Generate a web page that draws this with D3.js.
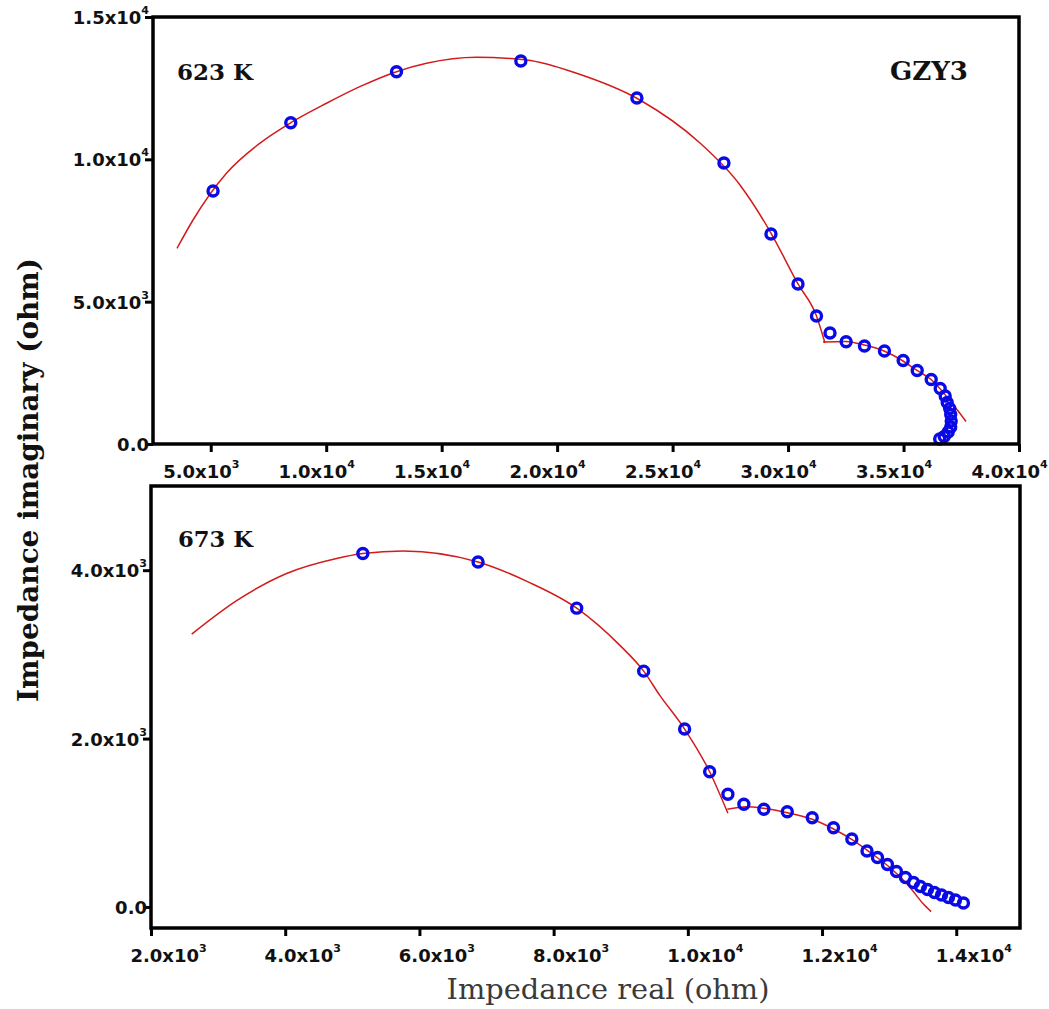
<!DOCTYPE html>
<html>
<head>
<meta charset="utf-8">
<script src="https://d3js.org/d3.v7.min.js"></script>
<style>
  html, body { margin: 0; padding: 0; background: #fff; }
  svg { display: block; }
</style>
</head>
<body>
<svg id="chart" width="1049" height="1009"></svg>
<script>
// Nyquist plots of sample GZY3 at two temperatures (real vs imaginary impedance, ohm)

// 623 K: measured points
const real623 = [5100, 8466, 13045, 18429, 23454, 27223, 29259, 30430, 31231, 31816,
  32515, 33308, 34174, 34984, 35592, 36198, 36588, 36804, 36891, 36999, 37043, 37064,
  37043, 36934, 36761, 36566];
const imag623 = [8888, 11287, 13079, 13455, 12155, 9872, 7377, 5621, 4497, 3899,
  3594, 3443, 3267, 2933, 2582, 2266, 1950, 1686, 1458, 1247, 1036, 808,
  597, 422, 263, 176];

// 623 K: fitted arcs (grain, grain boundary)
const fitReal623a = [3540, 4233, 5680, 7123, 8466, 10012, 11455, 13045, 14344, 16510,
  18676, 20842, 23584, 26184, 27917, 29259, 30430, 31231, 31599];
const fitImag623a = [6875, 7869, 9510, 10563, 11287, 11969, 12552, 13079, 13374, 13585,
  13490, 13023, 12085, 10574, 9099, 7412, 5621, 4497, 3548];
const fitReal623b = [31512, 32508, 33288, 34154, 34977, 35584, 36190, 36883, 37707];
const fitImag623b = [3583, 3601, 3478, 3267, 2916, 2582, 2266, 1651, 790];

// 673 K: measured points
const real673 = [5157, 6874, 8344, 9342, 9952, 10325, 10597, 10835, 11133, 11482,
  11854, 12171, 12444, 12670, 12826, 12975, 13109, 13243, 13363, 13466, 13571,
  13675, 13780, 13884, 13988, 14107];
const imag673 = [4198, 4098, 3549, 2801, 2113, 1606, 1338, 1219, 1160, 1131,
  1060, 941, 807, 665, 588, 504, 421, 350, 291, 243, 208,
  172, 142, 113, 83, 47];

// 673 K: fitted arcs
const fitReal673a = [2606, 3276, 4021, 4765, 5153, 5757, 6874, 7619, 8344, 8984,
  9342, 9580, 9952, 10325, 10597];
const fitImag673a = [3240, 3638, 3961, 4139, 4198, 4229, 4098, 3861, 3549, 3110,
  2801, 2516, 2113, 1606, 1112];
const fitReal673b = [10588, 10871, 11133, 11482, 11854, 12171, 12459, 12708, 13054,
  13303, 13501, 13626];
const fitImag673b = [1160, 1190, 1171, 1119, 1041, 926, 795, 653, 439, 241, 44, -56];

// axis ticks
const xTicks623 = [5000, 10000, 15000, 20000, 25000, 30000, 35000, 40000];
const yTicks623 = [0, 5000, 10000, 15000];
const xTicks673 = [2000, 4000, 6000, 8000, 10000, 12000, 14000];
const yTicks673 = [0, 2000, 4000];

const panelLabels = ["623 K", "673 K"];
const sampleName = "GZY3";
const xTitle = "Impedance real (ohm)";
const yTitle = "Impedance imaginary (ohm)";

const svg = d3.select("#chart");

const zip = (a, b) => a.map((v, i) => [v, b[i]]);

function splitLabel(v) {
  if (v === 0) return ["0.0", null];
  const e = Math.floor(Math.log10(v) + 1e-9);
  const m = v / Math.pow(10, e);
  return [m.toFixed(1) + "x10", String(e)];
}

function styleTickText(sel, isX, dx) {
  sel.each(function (d) {
    const t = d3.select(this);
    const [main, sup] = splitLabel(d);
    t.text(null)
      .attr("font-family", "'DejaVu Sans', sans-serif")
      .attr("font-weight", "bold")
      .attr("font-size", 18)
      .attr("fill", "#111");
    t.append("tspan").text(main);
    if (sup) {
      t.append("tspan").text(sup).attr("font-size", 11).attr("dy", -10);
    }
    if (isX) {
      t.attr("y", 34).attr("dy", null).attr("x", dx).attr("text-anchor", "middle");
    } else {
      t.attr("x", -4).attr("dy", null).attr("y", 6.5).attr("text-anchor", "end");
    }
  });
}

function drawPanel(cfg) {
  const g = svg.append("g");
  const x = d3.scaleLinear().domain(cfg.xDomain).range(cfg.xRange);
  const y = d3.scaleLinear().domain(cfg.yDomain).range(cfg.yRange);
  const [x0, x1] = cfg.xRange;
  const [y0, y1] = cfg.yRange;

  // fitted arcs
  const line = d3.line()
    .x(d => x(d[0])).y(d => y(d[1]))
    .curve(d3.curveMonotoneX);
  cfg.fits.forEach(f => {
    g.append("path")
      .attr("d", line(f))
      .attr("fill", "none")
      .attr("stroke", "#d21c1c")
      .attr("stroke-width", 1.5);
  });

  // measured points
  g.append("g").selectAll("circle")
    .data(cfg.points)
    .join("circle")
    .attr("cx", d => x(d[0]))
    .attr("cy", d => y(d[1]))
    .attr("r", 5)
    .attr("fill", "none")
    .attr("stroke", "#0a0ae6")
    .attr("stroke-width", 3.4);

  // frame
  g.append("rect")
    .attr("x", x0).attr("y", y1)
    .attr("width", x1 - x0).attr("height", y0 - y1)
    .attr("fill", "none")
    .attr("stroke", "#000")
    .attr("stroke-width", 3.5);

  // axes
  const xAxis = g.append("g")
    .attr("transform", `translate(0,${y0})`)
    .call(d3.axisBottom(x).tickValues(cfg.xTicks).tickSizeInner(8).tickSizeOuter(0));
  xAxis.select(".domain").remove();
  xAxis.selectAll(".tick line").attr("stroke", "#000").attr("stroke-width", 3);
  xAxis.selectAll(".tick text").call(styleTickText, true, cfg.xLabelShift);

  const yAxis = g.append("g")
    .attr("transform", `translate(${x0},0)`)
    .call(d3.axisLeft(y).tickValues(cfg.yTicks).tickSizeInner(8).tickSizeOuter(0));
  yAxis.select(".domain").remove();
  yAxis.selectAll(".tick line").attr("stroke", "#000").attr("stroke-width", 3);
  yAxis.selectAll(".tick text").call(styleTickText, false, 0);

  return { g, x, y };
}

function fitText(sel, target) {
  const len = sel.node().getComputedTextLength();
  const fs = parseFloat(sel.attr("font-size"));
  sel.attr("font-size", fs * target / len);
}

const panel623 = drawPanel({
  xDomain: [2500, 40000], xRange: [153, 1019],
  yDomain: [0, 15000], yRange: [444, 17],
  xTicks: xTicks623, yTicks: yTicks623, xLabelShift: -10,
  points: zip(real623, imag623),
  fits: [zip(fitReal623a, fitImag623a), zip(fitReal623b, fitImag623b)]
});

const panel673 = drawPanel({
  xDomain: [2000, 14950], xRange: [151, 1020],
  yDomain: [-250, 5000], yRange: [928, 486],
  xTicks: xTicks673, yTicks: yTicks673, xLabelShift: 17,
  points: zip(real673, imag673),
  fits: [zip(fitReal673a, fitImag673a), zip(fitReal673b, fitImag673b)]
});

// panel annotations
const serifBold = { family: "'DejaVu Serif', serif", weight: "bold" };
fitText(svg.append("text").text(panelLabels[0])
  .attr("x", 177).attr("y", 80)
  .attr("font-family", serifBold.family).attr("font-weight", serifBold.weight)
  .attr("font-size", 23).attr("fill", "#111"), 76);
fitText(svg.append("text").text(panelLabels[1])
  .attr("x", 178).attr("y", 547)
  .attr("font-family", serifBold.family).attr("font-weight", serifBold.weight)
  .attr("font-size", 23).attr("fill", "#111"), 75);
fitText(svg.append("text").text(sampleName)
  .attr("x", 890).attr("y", 80)
  .attr("font-family", serifBold.family).attr("font-weight", serifBold.weight)
  .attr("font-size", 25).attr("fill", "#111"), 78);

// axis titles
fitText(svg.append("text").text(yTitle)
  .attr("transform", "translate(38,480) rotate(-90)")
  .attr("text-anchor", "middle")
  .attr("font-family", serifBold.family).attr("font-weight", "bold")
  .attr("font-size", 29).attr("fill", "#111"), 444);

fitText(svg.append("text").text(xTitle)
  .attr("x", 608).attr("y", 999)
  .attr("text-anchor", "middle")
  .attr("font-family", "'DejaVu Serif', serif")
  .attr("font-size", 29).attr("fill", "#3a3a3a"), 323);
</script>
</body>
</html>
